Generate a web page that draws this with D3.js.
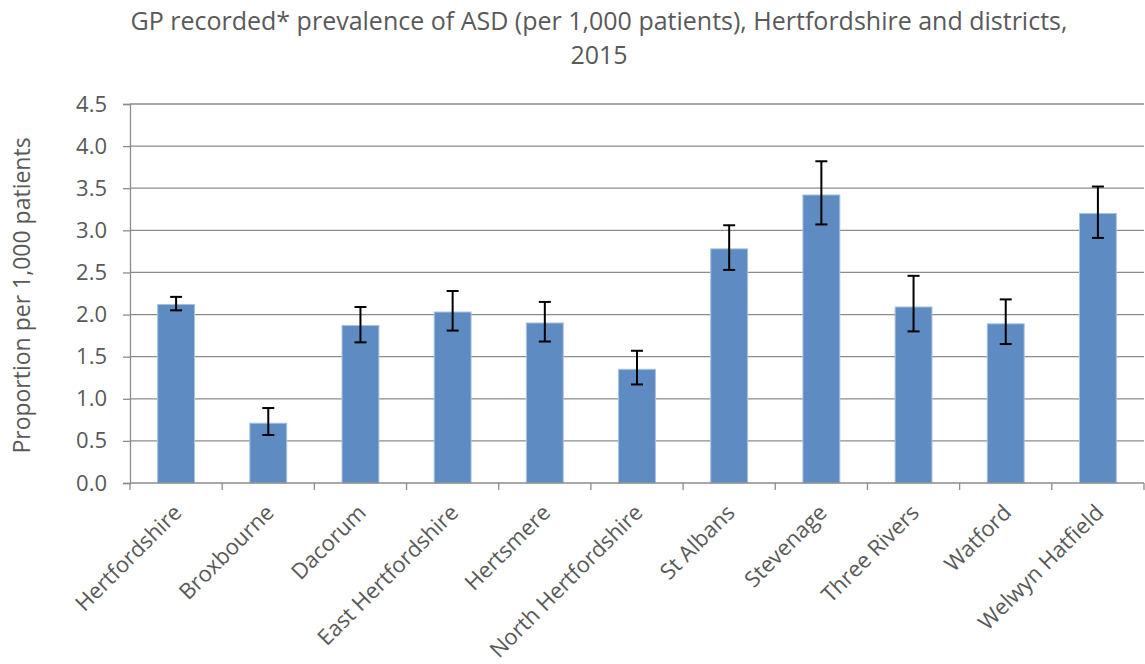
<!DOCTYPE html>
<html>
<head>
<meta charset="utf-8">
<script src="https://cdn.jsdelivr.net/npm/d3@7"></script>
<style>
  body { margin: 0; background: #fff; }
  svg text { font-family: "Open Sans", "Noto Sans", sans-serif; fill: #595959; }
</style>
</head>
<body>
<svg id="chart" width="1145" height="664"></svg>
<script>
// districts, values
var districts = ['Hertfordshire', 'Broxbourne', 'Dacorum', 'East Hertfordshire', 'Hertsmere',
    'North Hertfordshire', 'St Albans', 'Stevenage', 'Three Rivers', 'Watford', 'Welwyn Hatfield'];
var prevalence = [2.12, 0.71, 1.87, 2.03, 1.90, 1.35, 2.78, 3.42, 2.09, 1.89, 3.20];
var lowerCI = [2.05, 0.57, 1.67, 1.81, 1.68, 1.17, 2.53, 3.07, 1.80, 1.65, 2.91];
var upperCI = [2.21, 0.89, 2.09, 2.28, 2.15, 1.57, 3.06, 3.82, 2.46, 2.18, 3.52];
var yTicks = [0, 0.5, 1, 1.5, 2, 2.5, 3, 3.5, 4, 4.5];

var svg = d3.select('#chart');
var pLeft = 130, pRight = 1144, pTop = 104, pBottom = 483;

var x = d3.scaleBand().domain(districts).range([pLeft, pRight]).paddingInner(0.6).paddingOuter(0.3);
var xOuter = d3.scaleBand().domain(districts).range([pLeft, pRight]);
var y = d3.scaleLinear().domain([0, 4.5]).range([pBottom, pTop]);

// gridlines
svg.append('g').selectAll('line')
    .data(yTicks.slice(1))
    .enter().append('line')
    .attr('x1', pLeft).attr('x2', pRight)
    .attr('y1', function(d){ return y(d); })
    .attr('y2', function(d){ return y(d); })
    .attr('stroke', '#8c8c8c')
    .attr('stroke-width', 1.3);

// y axis
var yAxis = svg.append('g')
    .attr('transform', 'translate(' + pLeft + ',0)')
    .call(d3.axisLeft(y).tickValues(yTicks).tickFormat(d3.format('.1f')).tickSize(7).tickPadding(16));
yAxis.select('.domain').attr('stroke', '#8c8c8c').attr('stroke-width', 1.3);
yAxis.selectAll('.tick line').attr('stroke', '#8c8c8c').attr('stroke-width', 1.3);
yAxis.selectAll('.tick text').style('font-size', '22px').attr('fill', '#595959')
    .style('font-family', '"Open Sans", sans-serif');

// bars
var data = districts.map(function(d, i){
    return {name: d, v: prevalence[i], lo: lowerCI[i], hi: upperCI[i]};
});
svg.append('g').selectAll('rect')
    .data(data)
    .enter().append('rect')
    .attr('x', function(d){ return x(d.name); })
    .attr('width', x.bandwidth())
    .attr('y', function(d){ return y(d.v); })
    .attr('height', function(d){ return y(0) - y(d.v); })
    .attr('fill', '#5e8bc2')
    .attr('stroke', '#a9c1de')
    .attr('stroke-width', 1);

// error bars
var err = svg.append('g').selectAll('g')
    .data(data)
    .enter().append('g')
    .attr('stroke', '#000')
    .attr('stroke-width', 2);
err.append('line')
    .attr('x1', function(d){ return x(d.name) + x.bandwidth() / 2; })
    .attr('x2', function(d){ return x(d.name) + x.bandwidth() / 2; })
    .attr('y1', function(d){ return y(d.lo); })
    .attr('y2', function(d){ return y(d.hi); });
['lo', 'hi'].forEach(function(k){
    err.append('line')
        .attr('x1', function(d){ return x(d.name) + x.bandwidth() / 2 - 6; })
        .attr('x2', function(d){ return x(d.name) + x.bandwidth() / 2 + 6; })
        .attr('y1', function(d){ return y(d[k]); })
        .attr('y2', function(d){ return y(d[k]); });
});

// x axis
var xAxis = svg.append('g')
    .attr('transform', 'translate(0,' + pBottom + ')');
xAxis.append('line')
    .attr('x1', pLeft).attr('x2', pRight).attr('y1', 0).attr('y2', 0)
    .attr('stroke', '#8c8c8c').attr('stroke-width', 1.3);
xAxis.selectAll('line.tk')
    .data(d3.range(districts.length + 1))
    .enter().append('line')
    .attr('class', 'tk')
    .attr('x1', function(i){ return pLeft + xOuter.step() * i; })
    .attr('x2', function(i){ return pLeft + xOuter.step() * i; })
    .attr('y1', 0).attr('y2', 7)
    .attr('stroke', '#8c8c8c').attr('stroke-width', 1.3);
xAxis.selectAll('text')
    .data(districts)
    .enter().append('text')
    .attr('text-anchor', 'end')
    .style('font-size', '22px')
    .attr('transform', function(d){
        var cx = xOuter(d) + xOuter.bandwidth() / 2 + 7;
        return 'translate(' + cx + ',31) rotate(-45)';
    })
    .text(function(d){ return d; });

// titles
var midY = (pTop + pBottom) / 2 + 2;
svg.append('text')
    .attr('x', 22).attr('y', midY)
    .attr('text-anchor', 'middle')
    .attr('transform', 'rotate(-90,22,' + midY + ')')
    .attr('dy', '0.35em')
    .style('font-size', '23px')
    .text('Proportion per 1,000 patients');

var title = svg.append('text')
    .attr('text-anchor', 'middle')
    .style('font-size', '25px');
title.append('tspan').attr('x', 599).attr('y', 30)
    .text('GP recorded* prevalence of ASD (per 1,000 patients), Hertfordshire and districts,');
title.append('tspan').attr('x', 599).attr('y', 64).text('2015');
</script>
</body>
</html>
